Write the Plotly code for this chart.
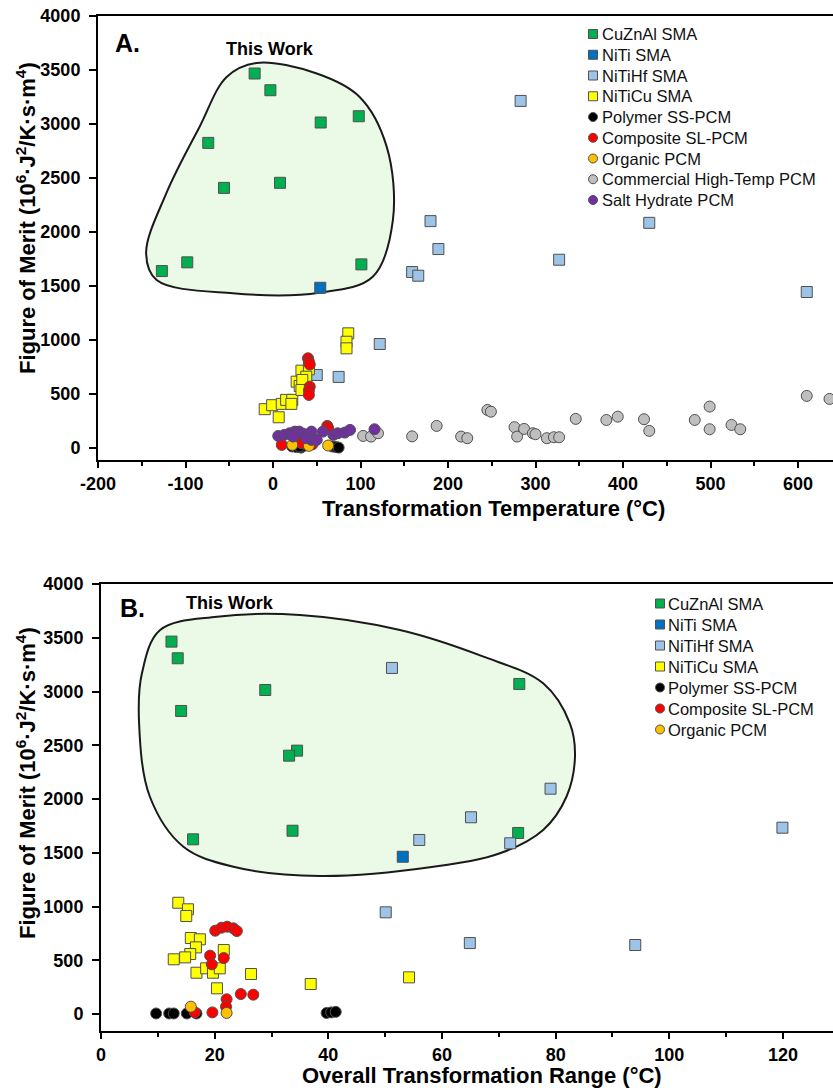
import plotly.graph_objects as go

# ---------------- Panel A data: transformation temperature (°C) vs FOM ----------------
a_cuznal_t = [-21, -3, 54.5, 98, -74, -56, 8, -127, -98, 101]
a_cuznal_f = [3467, 3312, 3013, 3071, 2824, 2407, 2454, 1636, 1717, 1698]
a_niti_t = [54]
a_niti_f = [1481]
a_nitihf_t = [283, 180, 189, 430, 327, 159, 166, 610, 122, 50, 75]
a_nitihf_f = [3213, 2099, 1840, 2083, 1741, 1627, 1593, 1442, 960, 673, 655]
a_niticu_t = [86, 84, 84, 32.5, 41, 27, 30.5, 35, 38, -9.5, -1, 10, 15, 22, 6.5, 21, 33.5, 32.5]
a_niticu_f = [1059, 981, 920, 713, 726, 611, 571, 550, 657, 356, 393, 405, 442, 442, 281, 405, 627, 534]
a_polymer_t = [22, 27, 32, 35, 68, 72, 75, 30]
a_polymer_f = [10, 5, 0, 15, 10, 5, 0, 10]
a_composite_t = [40, 41, 42, 42, 41, 41, 62, 63, 10, 32, 33, 45]
a_composite_f = [828, 797, 770, 565, 530, 488, 201, 180, 25, 71, 40, 30]
a_organic_t = [22, 41, 63]
a_organic_f = [25, 16, 19]
a_commercial_t = [103, 112, 120, 159, 187, 215, 222, 245, 249, 276, 279, 287, 297, 300, 313, 321,
                  327, 346, 381, 394, 424, 430, 482, 499, 499, 524, 534, 610, 636]
a_commercial_f = [108, 102, 133, 104, 201, 102, 87, 349, 333, 189, 102, 173, 133, 124, 87, 96,
                  96, 266, 256, 287, 263, 155, 256, 380, 170, 210, 170, 479, 451]
a_salt_t = [6, 13, 19, 25, 30, 35, 44, 44, 50, 57, 69, 74, 82, 88, 116, 23, 38]
a_salt_f = [108, 118, 133, 148, 148, 127, 148, 71, 71, 148, 118, 133, 139, 164, 170, 102, 87]

# "This Work" region outline, panel A (temperature, FOM)
a_region_t = [-19, 50, 99, 130, 137, 114, 53, -46, -133, -145, -122, -84, -53, -19]
a_region_f = [3565, 3467, 3250, 2787, 2108, 1583, 1435, 1430, 1553, 1800, 2356, 2972, 3435, 3565]

# ---------------- Panel B data: overall transformation range (°C) vs FOM ----------------
b_cuznal_r = [12.4, 13.5, 28.9, 14.1, 34.5, 33.1, 33.7, 16.2, 73.6, 73.4]
b_cuznal_f = [3464, 3309, 3014, 2819, 2450, 2403, 1705, 1625, 3070, 1684]
b_niti_r = [53.1]
b_niti_f = [1463]
b_nitihf_r = [51.2, 79.1, 65.1, 56.0, 72.0, 119.9, 94.0, 50.1, 64.9]
b_nitihf_f = [3219, 2096, 1830, 1619, 1588, 1733, 642, 946, 660]
b_niticu_r = [13.6, 15.3, 15.0, 15.8, 17.4, 16.7, 15.7, 14.8, 12.8, 16.8, 18.5, 19.7, 20.9, 21.6,
              20.4, 26.4, 36.9, 54.2]
b_niticu_f = [1035, 974, 912, 707, 695, 620, 558, 527, 509, 384, 425, 384, 425, 595,
              239, 372, 279, 341]
b_polymer_r = [9.7, 12.0, 12.8, 15.1, 16.8, 39.7, 40.5, 41.3]
b_polymer_f = [5, 5, 5, 5, 5, 10, 15, 20]
b_composite_r = [20.1, 21.2, 22.2, 23.3, 23.9, 19.2, 19.5, 21.6, 22.1, 22.0, 24.6, 26.8, 19.6, 16.5]
b_composite_f = [775, 803, 812, 797, 772, 543, 462, 521, 137, 68, 186, 180, 15, 15]
b_organic_r = [15.8, 22.1]
b_organic_f = [68, 10]

# "This Work" region outline, panel B (range, FOM)
b_region_r = [10.4, 20.4, 35.0, 52.6, 67.3, 77.8, 82.5, 83.4, 81.9, 77.8, 70.2, 58.5, 38.5, 23.3,
              14.5, 8.6, 6.7, 7.2, 10.4]
b_region_f = [3572, 3696, 3712, 3572, 3324, 3076, 2704, 2393, 2021, 1712, 1495, 1370, 1284, 1370,
              1556, 2021, 2704, 3169, 3572]

# ---------------- tick labels ----------------
a_xtick_vals = [-200, -100, 0, 100, 200, 300, 400, 500, 600]
a_xtick_text = ["-200", "-100", "0", "100", "200", "300", "400", "500", "600"]
b_xtick_vals = [0, 20, 40, 60, 80, 100, 120]
b_xtick_text = ["0", "20", "40", "60", "80", "100", "120"]
ytick_vals = [0, 500, 1000, 1500, 2000, 2500, 3000, 3500, 4000]
ytick_text = ["0", "500", "1000", "1500", "2000", "2500", "3000", "3500", "4000"]

# ---------------- styling ----------------
FONT = "Liberation Sans, Arial, sans-serif"
series_style = {
    "CuZnAl SMA": ("square", "#00B050"),
    "NiTi SMA": ("square", "#0070C0"),
    "NiTiHf SMA": ("square", "#9DC3E6"),
    "NiTiCu SMA": ("square", "#FFFF00"),
    "Polymer SS-PCM": ("circle", "#000000"),
    "Composite SL-PCM": ("circle", "#FF0000"),
    "Organic PCM": ("circle", "#FFC000"),
    "Commercial High-Temp PCM": ("circle", "#BFBFBF"),
    "Salt Hydrate PCM": ("circle", "#7030A0"),
}
EDGE = "#505050"

fig = go.Figure()

# regions
for rx, ry, xa, ya in [(a_region_t, a_region_f, "x", "y"), (b_region_r, b_region_f, "x2", "y2")]:
    fig.add_trace(go.Scatter(x=rx, y=ry, mode="lines", fill="toself", fillcolor="#EBF9E7",
                             line=dict(color="#1a1a1a", width=2, shape="spline", smoothing=1.0),
                             showlegend=False, hoverinfo="skip", xaxis=xa, yaxis=ya))

panel_a = [
    ("CuZnAl SMA", a_cuznal_t, a_cuznal_f),
    ("NiTi SMA", a_niti_t, a_niti_f),
    ("NiTiHf SMA", a_nitihf_t, a_nitihf_f),
    ("NiTiCu SMA", a_niticu_t, a_niticu_f),
    ("Polymer SS-PCM", a_polymer_t, a_polymer_f),
    ("Composite SL-PCM", a_composite_t, a_composite_f),
    ("Organic PCM", a_organic_t, a_organic_f),
    ("Commercial High-Temp PCM", a_commercial_t, a_commercial_f),
    ("Salt Hydrate PCM", a_salt_t, a_salt_f),
]
panel_b = [
    ("CuZnAl SMA", b_cuznal_r, b_cuznal_f),
    ("NiTi SMA", b_niti_r, b_niti_f),
    ("NiTiHf SMA", b_nitihf_r, b_nitihf_f),
    ("NiTiCu SMA", b_niticu_r, b_niticu_f),
    ("Polymer SS-PCM", b_polymer_r, b_polymer_f),
    ("Composite SL-PCM", b_composite_r, b_composite_f),
    ("Organic PCM", b_organic_r, b_organic_f),
]

for panel, xa, ya in [(panel_a, "x", "y"), (panel_b, "x2", "y2")]:
    for name, xs, ys in panel:
        sym, col = series_style[name]
        fig.add_trace(go.Scatter(x=xs, y=ys, mode="markers", name=name, showlegend=False,
                                 marker=dict(symbol=sym, color=col, size=11,
                                             line=dict(color=EDGE, width=1)),
                                 xaxis=xa, yaxis=ya))

W, H = 833, 1091
tickfont = dict(family=FONT, size=18, color="#000000")
titlefont = dict(family=FONT, size=22, color="#000000")
ytitle = "<b>Figure of Merit (10<sup>6</sup>·J<sup>2</sup>/K·s·m<sup>4</sup>)</b>"

def bold(labels):
    return ["<b>%s</b>" % t for t in labels]

def xax(domain, rng, vals, text, minor_dtick, anchor):
    return dict(domain=domain, range=rng, tickmode="array", tickvals=vals, ticktext=bold(text),
                anchor=anchor, automargin=False,
                showgrid=False, zeroline=False, showline=True, linecolor="#000000", linewidth=2,
                mirror=True, ticks="outside", ticklen=6, tickwidth=2, tickcolor="#000000",
                minor=dict(ticks="outside", ticklen=4, tickwidth=2, tickcolor="#000000",
                           tickmode="linear", tick0=0, dtick=minor_dtick),
                tickfont=tickfont)

def yax(domain, rng, anchor):
    return dict(domain=domain, range=rng, tickmode="array", tickvals=ytick_vals, ticktext=bold(ytick_text),
                anchor=anchor, automargin=False,
                showgrid=False, zeroline=False, showline=True, linecolor="#000000", linewidth=2,
                ticks="outside", ticklen=7, tickwidth=2, tickcolor="#000000",
                ticklabelstandoff=5, tickfont=tickfont)

fig.update_layout(
    width=W, height=H, autosize=False,
    margin=dict(l=0, r=0, t=0, b=0, autoexpand=False),
    paper_bgcolor="#FFFFFF", plot_bgcolor="#FFFFFF",
    font=dict(family=FONT, color="#000000"),
    xaxis=xax([98 / W, 1], [-200, 640], a_xtick_vals, a_xtick_text, 50, "y"),
    yaxis=yax([(H - 460) / H, (H - 16) / H], [-115, 4000], "x"),
    xaxis2=xax([101 / W, 1], [0, 128.8], b_xtick_vals, b_xtick_text, 10, "y2"),
    yaxis2=yax([(H - 1031) / H, (H - 584) / H], [-158, 4000], "x2"),
    showlegend=False,
)

annos = [
    dict(text="<b>A.</b>", x=-183, y=3747, xref="x", yref="y", xanchor="left", yanchor="middle",
         showarrow=False, font=dict(family=FONT, size=25)),
    dict(text="<b>This Work</b>", x=-4, y=3698, xref="x", yref="y", xanchor="center", yanchor="middle",
         showarrow=False, font=dict(family=FONT, size=18)),
    dict(text="<b>B.</b>", x=3.0, y=3774, xref="x2", yref="y2", xanchor="left", yanchor="middle",
         showarrow=False, font=dict(family=FONT, size=25)),
    dict(text="<b>This Work</b>", x=22.7, y=3826, xref="x2", yref="y2", xanchor="center", yanchor="middle",
         showarrow=False, font=dict(family=FONT, size=18)),
    dict(text="<b>Transformation Temperature (°C)</b>", x=493 / W, y=(H - 508) / H, xref="paper", yref="paper",
         xanchor="center", yanchor="middle", showarrow=False, font=titlefont),
    dict(text="<b>Overall Transformation Range (°C)</b>", x=482 / W, y=(H - 1075) / H, xref="paper", yref="paper",
         xanchor="center", yanchor="middle", showarrow=False, font=titlefont),
    dict(text=ytitle, x=26 / W, y=(H - 218) / H, xref="paper", yref="paper", textangle=-90,
         xanchor="center", yanchor="middle", showarrow=False, font=titlefont),
    dict(text=ytitle, x=26 / W, y=(H - 783) / H, xref="paper", yref="paper", textangle=-90,
         xanchor="center", yanchor="middle", showarrow=False, font=titlefont),
]

# hand-built legends (symbol + label), placed in pixel positions
shapes = []
def add_legend(panel, sym_x, text_x, y_first, step):
    for i, (name, _, _) in enumerate(panel):
        sym, col = series_style[name]
        yc = y_first + step * i
        half = 4.5
        shapes.append(dict(type="rect" if sym == "square" else "circle", xref="paper", yref="paper",
                           x0=(sym_x - half) / W, x1=(sym_x + half) / W,
                           y0=(H - yc - half) / H, y1=(H - yc + half) / H,
                           fillcolor=col, line=dict(color=EDGE, width=1), layer="above"))
        annos.append(dict(text=name, x=text_x / W, y=(H - yc) / H, xref="paper", yref="paper",
                          xanchor="left", yanchor="middle", showarrow=False,
                          font=dict(family=FONT, size=16.5, color="#111111")))

add_legend(panel_a, 593, 600, 34, 20.75)
add_legend(panel_b, 660, 666, 603.5, 21)

fig.update_layout(annotations=annos, shapes=shapes)

fig.write_html("out.html")
